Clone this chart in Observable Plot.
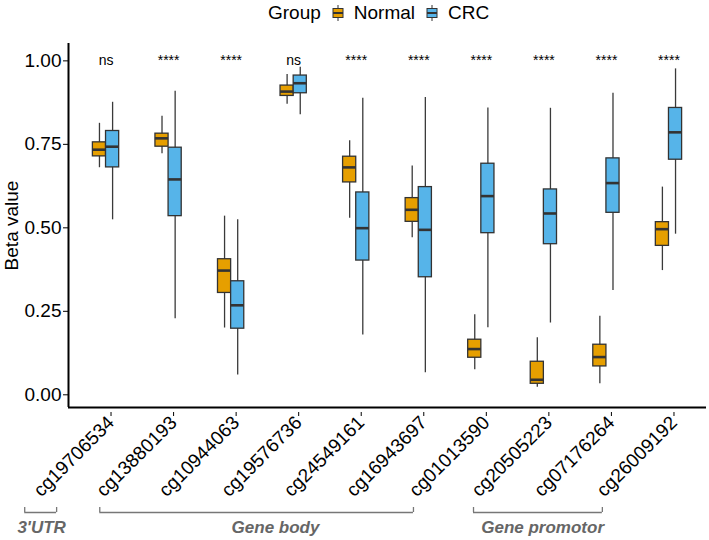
<!DOCTYPE html>
<html><head><meta charset="utf-8">
<script src="https://cdn.jsdelivr.net/npm/d3@7"></script>
<script src="https://cdn.jsdelivr.net/npm/@observablehq/plot@0.6"></script>
<style>
body{margin:0;background:#fff;font-family:"Liberation Sans",Arial,Helvetica,sans-serif;}
#chart{position:relative;width:709px;height:540px;background:#fff;overflow:hidden;}
svg{display:block}
#legend{position:relative;height:28px;font-size:19px;color:#000;}
#legend .row{position:absolute;left:268px;top:2px;display:flex;align-items:center;height:22px;white-space:nowrap;}
#legend .key{display:inline-block;width:12px;height:16px;margin:0 10px 0 11px;}
</style></head><body>
<div id="chart"><div id="legend"></div></div>
<script>
// ---- data ----
const sites = ["cg19706534","cg13880193","cg10944063","cg19576736","cg24549161",
               "cg16943697","cg01013590","cg20505223","cg07176264","cg26009192"];
const groups = ["Normal","CRC"];
const groupColors = ["#E69F00","#56B4E9"];
const significance = ["ns","****","****","ns","****","****","****","****","****","****"];

const normalMin    = [0.680,0.722,0.200,0.870,0.529,0.470,0.075,0.023,0.033,0.372];
const normalQ1     = [0.714,0.743,0.305,0.895,0.636,0.518,0.111,0.033,0.085,0.446];
const normalMedian = [0.734,0.768,0.372,0.908,0.681,0.554,0.137,0.045,0.113,0.496];
const normalQ3     = [0.756,0.782,0.406,0.926,0.713,0.589,0.165,0.099,0.150,0.517];
const normalMax    = [0.813,0.834,0.535,0.959,0.761,0.685,0.240,0.171,0.235,0.622];

const crcMin    = [0.524,0.228,0.059,0.839,0.179,0.066,0.201,0.215,0.312,0.481];
const crcQ1     = [0.681,0.535,0.198,0.903,0.402,0.352,0.484,0.451,0.545,0.704];
const crcMedian = [0.743,0.645,0.268,0.933,0.499,0.494,0.595,0.543,0.634,0.786];
const crcQ3     = [0.790,0.740,0.340,0.956,0.606,0.622,0.692,0.615,0.708,0.859];
const crcMax    = [0.876,0.909,0.524,0.981,0.888,0.890,0.859,0.858,0.903,0.976];

const yTicks = [0, 0.25, 0.5, 0.75, 1];
const yLabel = "Beta value";
const legendTitle = "Group";

// region brackets, in site-index units
const regionNames  = ["3'UTR","Gene body","Gene promotor"];
const regionStart  = [-1.30,-0.10,5.875];
const regionEnd    = [-0.79, 4.915,7.935];
const regionLabelX = [-1.03, 2.71, 6.98];

// ---- build tables ----
const stats = {
  Normal: [normalMin, normalQ1, normalMedian, normalQ3, normalMax],
  CRC:    [crcMin, crcQ1, crcMedian, crcQ3, crcMax]
};
const dodge = {Normal: -0.105, CRC: 0.105};
const halfW = 0.105;
const rows = [];
sites.forEach((s, i) => {
  groups.forEach(g => {
    const [lo, q1, med, q3, hi] = stats[g].map(a => a[i]);
    rows.push({site: s, i, group: g, x: i + dodge[g], lo, q1, med, q3, hi});
  });
});
const sigRows = sites.map((s, i) => ({i, label: significance[i]}));
const regions = regionNames.map((n, k) => ({name: n, start: regionStart[k], end: regionEnd[k], lx: regionLabelX[k]}));
const regionEnds = regions.flatMap(r => [r.start, r.end]);

const xDomain = [-0.6, sites.length - 0.4];
const yDomain = [-0.038, 1.052];
const font = '"Liberation Sans", Arial, Helvetica, sans-serif';

// ---- legend ----
const legend = document.getElementById("legend");
const row = document.createElement("div");
row.className = "row";
row.appendChild(Object.assign(document.createElement("span"), {textContent: legendTitle}));
groups.forEach((g, k) => {
  const key = document.createElement("span");
  key.className = "key";
  key.innerHTML = `<svg width="12" height="16" viewBox="0 0 12 16"><line x1="6" y1="0" x2="6" y2="16" stroke="#333" stroke-width="1"/><rect x="1" y="3.5" width="10" height="9" fill="${groupColors[k]}" stroke="#333" stroke-width="1"/><line x1="1" y1="8" x2="11" y2="8" stroke="#333" stroke-width="2"/></svg>`;
  row.appendChild(key);
  row.appendChild(Object.assign(document.createElement("span"), {textContent: g}));
});
legend.appendChild(row);

// ---- main plot ----
const main = Plot.plot({
  width: 709, height: 475,
  marginLeft: 68, marginRight: 3, marginTop: 15, marginBottom: 96,
  x: {domain: xDomain},
  y: {domain: yDomain},
  color: {domain: groups, range: groupColors},
  style: {fontFamily: font, fontSize: "19px", color: "#000", background: "#fff", overflow: "visible"},
  marks: [
    Plot.axisY({ticks: yTicks, tickFormat: d3.format(".2f"), tickSize: 5, tickPadding: 2,
                label: yLabel, labelAnchor: "center", labelArrow: "none", labelOffset: 64, fontSize: 19}),
    Plot.axisX({ticks: d3.range(sites.length), tickFormat: i => sites[i], tickRotate: -45,
                tickSize: 4, tickPadding: 3, label: null, fontSize: 19, dx: 5, dy: 5}),
    Plot.ruleX(rows, {x: "x", y1: "lo", y2: "hi", stroke: "#3a3a3a", strokeWidth: 1.3}),
    Plot.rect(rows, {x1: d => d.x - halfW, x2: d => d.x + halfW, y1: "q1", y2: "q3",
                     fill: "group", stroke: "#333", strokeWidth: 1.3}),
    Plot.ruleY(rows, {y: "med", x1: d => d.x - halfW, x2: d => d.x + halfW, stroke: "#333", strokeWidth: 2.6}),
    Plot.text(sigRows, {x: "i", y: 1.0, text: "label", fontSize: 14, fill: "#000"}),
    Plot.ruleX([xDomain[0]], {stroke: "#000", strokeWidth: 2}),
    Plot.ruleY([yDomain[0]], {stroke: "#000", strokeWidth: 2})
  ]
});
document.getElementById("chart").appendChild(main);

// ---- region brackets ----
const brackets = Plot.plot({
  width: 709, height: 37,
  marginLeft: 68, marginRight: 3, marginTop: 4, marginBottom: 28,
  x: {domain: xDomain, axis: null},
  y: {domain: [0, 1], axis: null},
  style: {fontFamily: font, background: "#fff", overflow: "visible"},
  marks: [
    Plot.ruleY(regions, {x1: "start", x2: "end", y: 0, stroke: "#777", strokeWidth: 1.3}),
    Plot.ruleX(regionEnds, {x: d => d, y1: 0, y2: 1, stroke: "#777", strokeWidth: 1.3}),
    Plot.text(regions, {x: "lx", y: 0, dy: 15, text: "name", fontSize: 17, fontWeight: "bold",
                        fontStyle: "italic", fill: "#666"})
  ]
});
document.getElementById("chart").appendChild(brackets);
</script>
</body></html>
